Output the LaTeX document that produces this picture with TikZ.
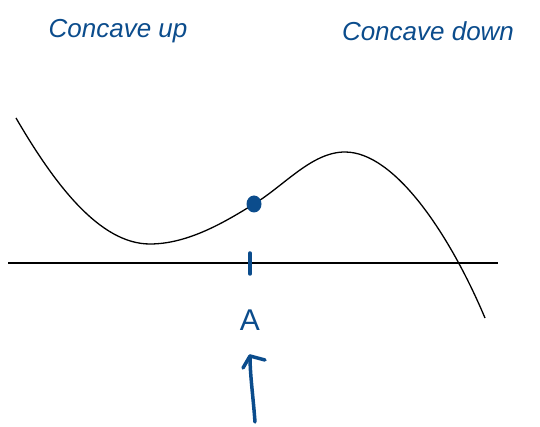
\documentclass[tikz,border=0pt]{standalone}
\usepackage{fontspec}
\setmainfont{Liberation Sans}
\usetikzlibrary{shapes.geometric}
\begin{document}
\begin{tikzpicture}[x=1pt,y=-1pt,
  ink/.style={draw=inkblue,line width=3.5pt,line cap=round},
  lbl/.style={text=inkblue,font=\fontsize{26}{28}\selectfont\itshape,anchor=center}]
\definecolor{inkblue}{HTML}{0B4C8C}
\useasboundingbox (0,0) rectangle (540,427);
% axis
\coordinate (axL) at (8,263);
\coordinate (axR) at (498,263);
\draw[line width=2.2pt] (axL) -- (axR);
% curve
\coordinate (c0) at (16,118);
\coordinate (cmin) at (150,244);
\coordinate (cinf) at (254,204);
\coordinate (cmax) at (345,152);
\coordinate (c1) at (485,318);
\draw[line width=1.3pt] (c0) .. controls (55,185) and (100,244) .. (cmin)
  .. controls (188,244) and (225,222) .. (cinf)
  .. controls (285,185) and (312,152) .. (cmax)
  .. controls (395,152) and (450,235) .. (c1);
% dot
\node[ellipse,fill=inkblue,inner sep=0pt,minimum width=15pt,minimum height=17pt] (P) at (cinf) {};
% tick
\coordinate (t1) at (250,253);
\coordinate (t2) at (250,274);
\draw[ink] (t1) -- (t2);
% A
\node[lbl,font=\fontsize{30}{32}\selectfont] (A) at (250,320) {A};
% arrow
\coordinate (arB) at (255,422);
\coordinate (arT) at (250,356);
\draw[ink] (arB) .. controls (253,395) and (250,375) .. (arT);
\coordinate (h1) at (243,368);
\coordinate (h2) at (265,360);
\draw[ink,line join=round] (h1) -- (arT) -- (h2);
% labels
\node[lbl] (cu) at (118,31) {Concave up};
\node[lbl] (cd) at (428,31) {Concave down};
\end{tikzpicture}
\end{document}
